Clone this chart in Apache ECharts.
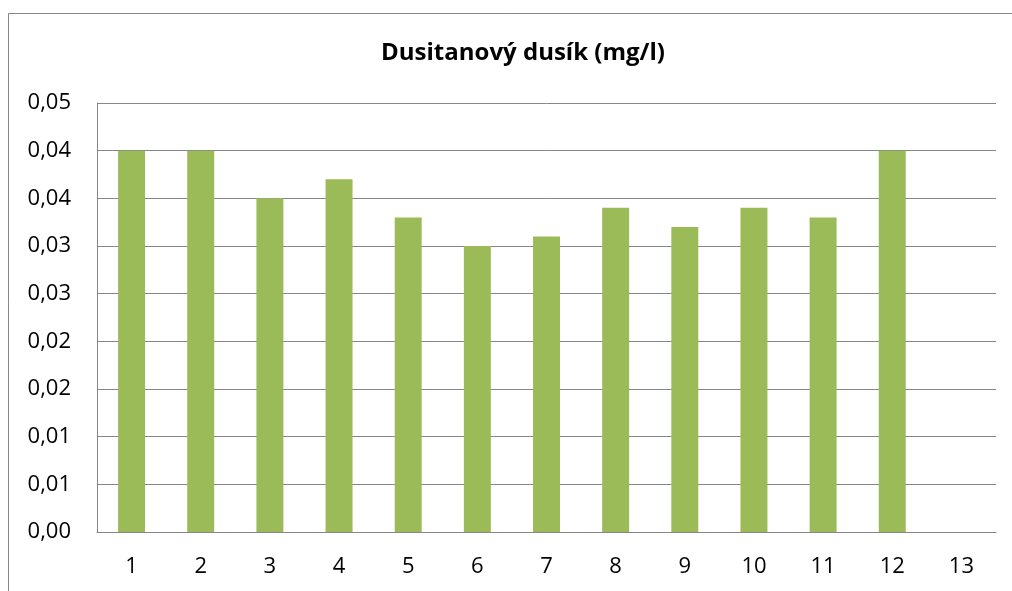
<!DOCTYPE html>
<html lang="cs">
<head>
  <meta charset="UTF-8">
  <title>Dusitanový dusík (mg/l)</title>
  <script src="https://cdn.jsdelivr.net/npm/echarts@6/dist/echarts.min.js"></script>
  <style>
    body { margin: 0; padding: 0; background: #fff; }
    #chart { width: 1012px; height: 591px; }
  </style>
</head>
<body>
  <div id="chart"></div>
  <script>
    // kategorie (měření) a hodnoty
    const categories = ['1', '2', '3', '4', '5', '6', '7', '8', '9', '10', '11', '12', '13'];
    const values = [0.040, 0.040, 0.035, 0.037, 0.033, 0.030, 0.031, 0.034, 0.032, 0.034, 0.033, 0.040, null];

    const chart = echarts.init(document.getElementById('chart'));
    const font = 'Open Sans';

    chart.setOption({
      animation: false,
      graphic: [{
        type: 'rect',
        shape: { x: 8.5, y: 13.5, width: 1100, height: 700 },
        style: { fill: 'none', stroke: '#868686', lineWidth: 1 }
      }],
      title: {
        text: 'Dusitanový dusík (mg/l)',
        left: 518,
        textAlign: 'center',
        top: 36,
        textStyle: { fontFamily: font, fontWeight: 'bold', fontSize: 24, color: '#000' }
      },
      grid: { left: 97, right: 16, top: 103, bottom: 59 },
      xAxis: {
        type: 'category',
        data: categories,
        axisTick: { show: false },
        axisLine: { lineStyle: { color: '#868686', width: 1 } },
        axisLabel: { fontFamily: font, fontSize: 22, color: '#000', margin: 24 }
      },
      yAxis: {
        type: 'value',
        min: 0,
        max: 0.045,
        interval: 0.005,
        axisLine: { show: true, lineStyle: { color: '#868686' } },
        axisTick: { show: false },
        splitLine: { lineStyle: { color: '#868686', width: 1 } },
        axisLabel: {
          fontFamily: font, fontSize: 22, color: '#000', margin: 26,
          formatter: function (v) {
            // zaokrouhlení na 2 desetinná místa jako v Excelu
            return (Math.round(v * 100 + 1e-9) / 100).toFixed(2).replace('.', ',');
          }
        }
      },
      series: [{
        type: 'bar',
        data: values,
        barWidth: '39%',
        itemStyle: { color: '#9BBB59' }
      }]
    });
  </script>
</body>
</html>
